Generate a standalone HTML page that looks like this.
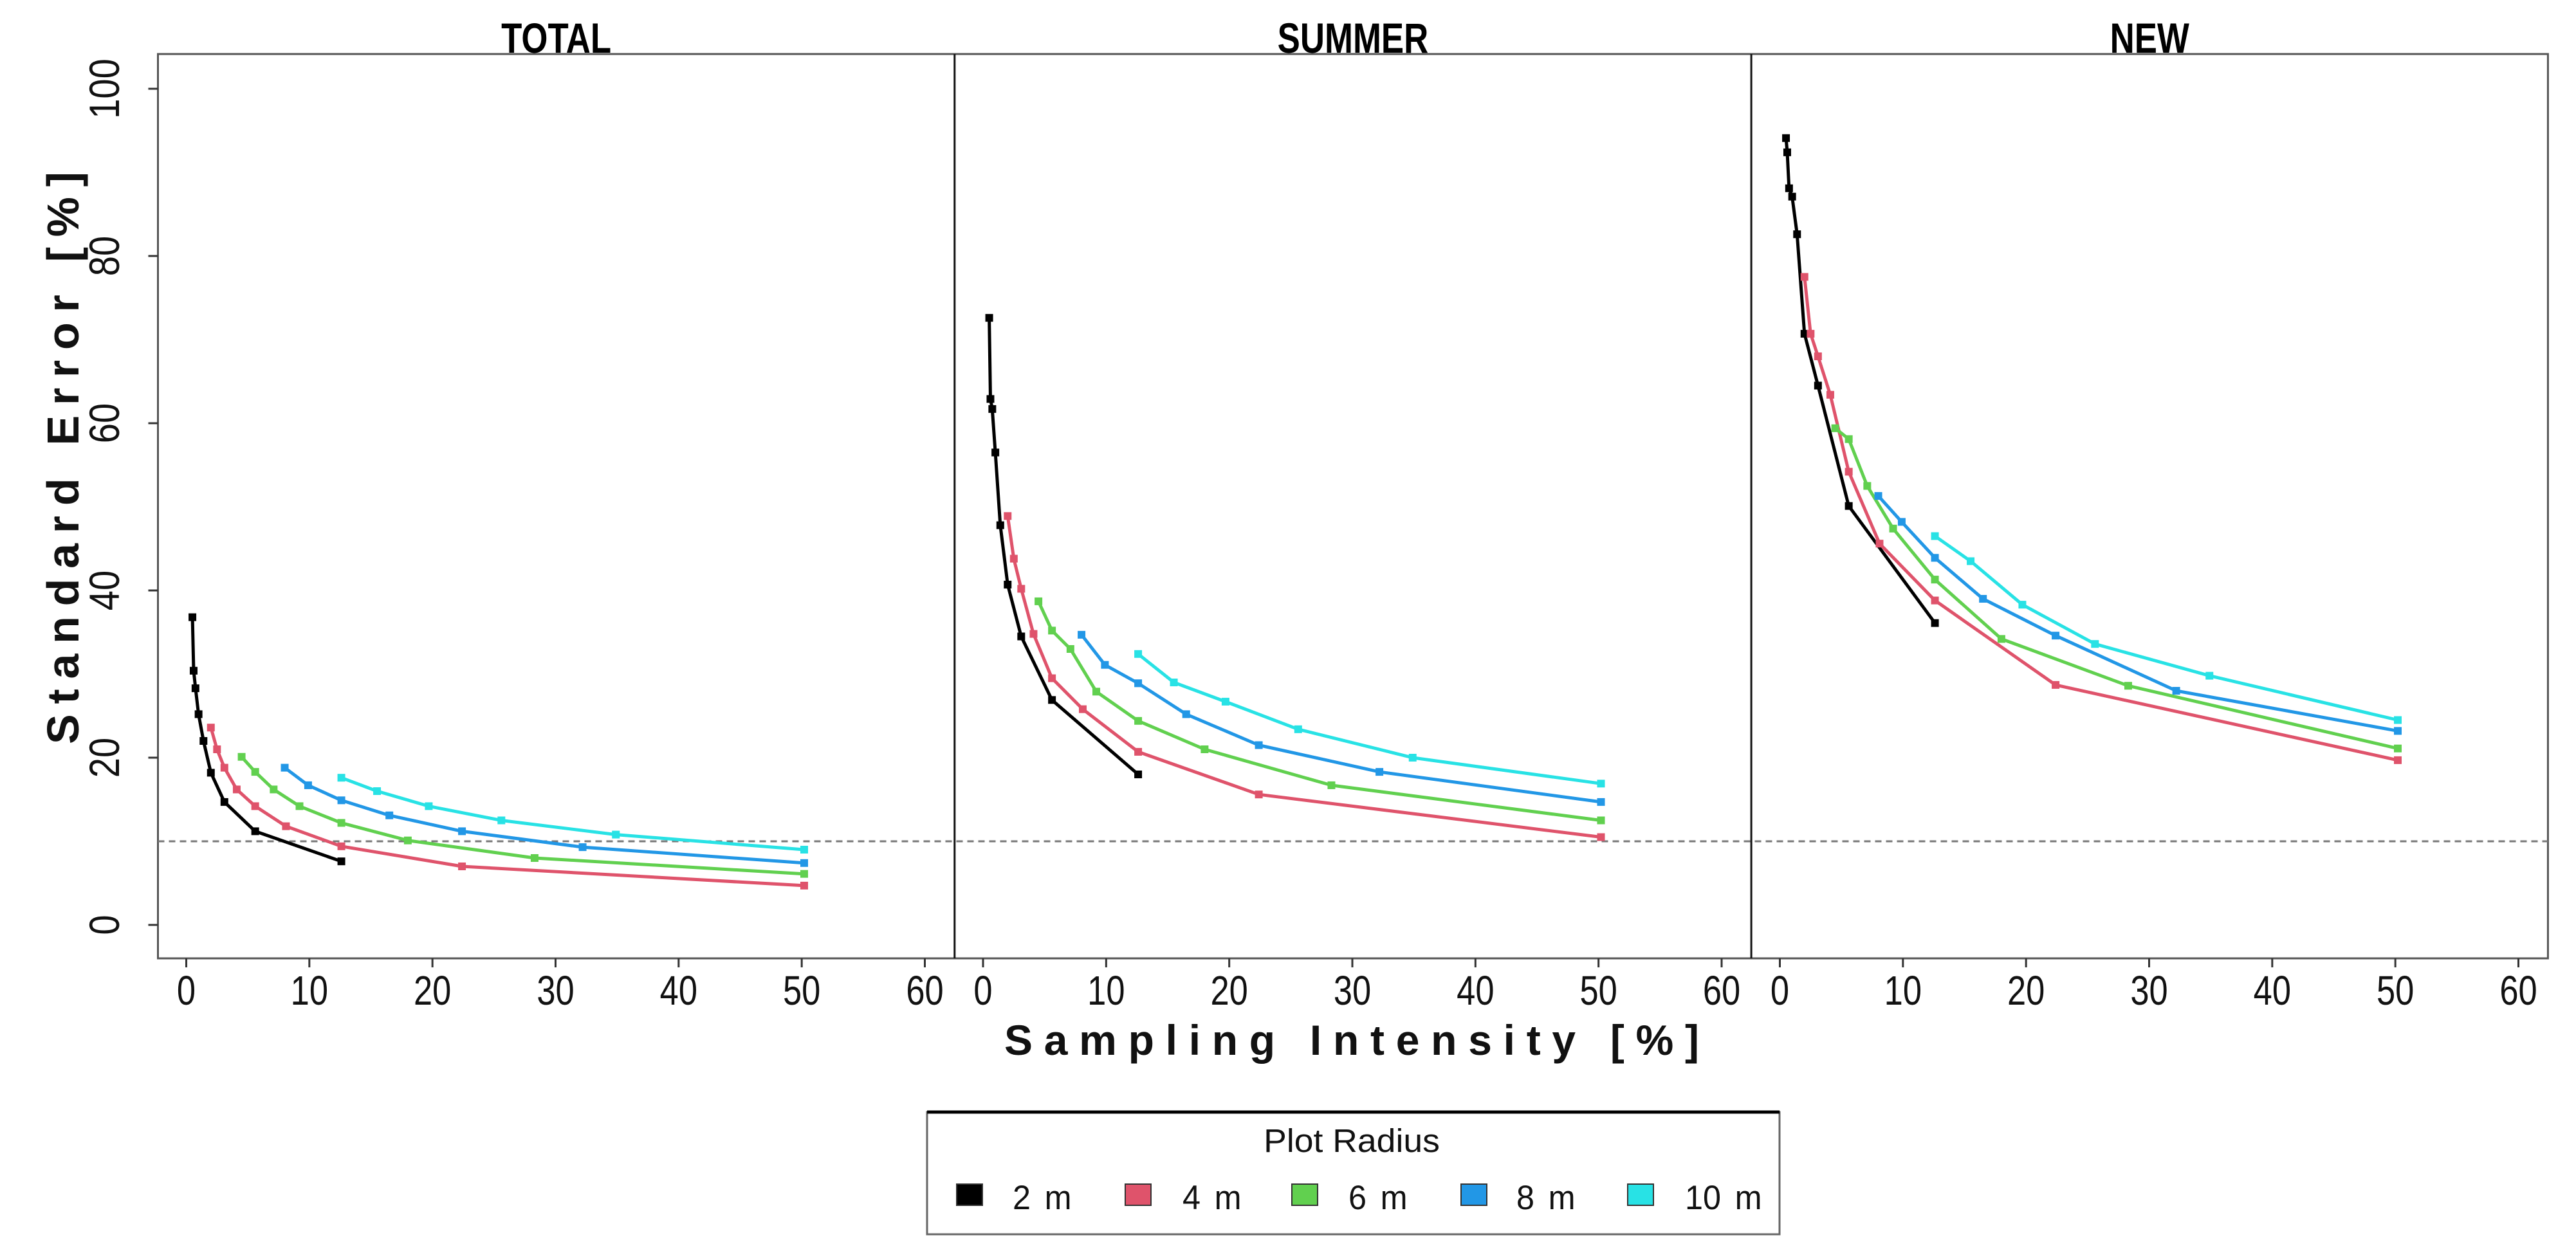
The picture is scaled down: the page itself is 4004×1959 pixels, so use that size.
<!DOCTYPE html>
<html><head><meta charset="utf-8"><style>
html,body{margin:0;padding:0;background:#fff;}
svg{display:block;font-family:"Liberation Sans",sans-serif;}
</style></head><body>
<svg id="chart" width="4004" height="1959" viewBox="0 0 4004 1959" xmlns="http://www.w3.org/2000/svg">
<g id="frame"></g><g id="marks"></g><g id="labels"></g>
</svg>
<script>
const panelTitles = ["TOTAL","SUMMER","NEW"];
const seriesNames = ["2 m","4 m","6 m","8 m","10 m"];
const xTicks = [0,10,20,30,40,50,60];
const yTicks = [0,20,40,60,80,100];
const x2m = [0.5,0.6,0.75,1.0,1.4,2.0,3.1,5.6,12.6];
const x4m = [2.0,2.5,3.1,4.1,5.6,8.1,12.6,22.4,50.2];
const x6m = [4.5,5.6,7.1,9.2,12.6,18.0,28.3,50.2];
const x8m = [8.0,9.9,12.6,16.5,22.4,32.2,50.2];
const x10m = [12.6,15.5,19.7,25.6,34.9,50.2];
const totalY2 = [36.8,30.4,28.3,25.2,22.0,18.2,14.7,11.2,7.6];
const totalY4 = [23.6,21.0,18.8,16.2,14.2,11.8,9.4,7.0,4.7];
const totalY6 = [20.1,18.3,16.2,14.2,12.2,10.1,8.0,6.1];
const totalY8 = [18.8,16.7,14.9,13.1,11.2,9.3,7.4];
const totalY10 = [17.6,16.0,14.2,12.5,10.8,9.0];
const summerY2 = [72.6,62.9,61.7,56.5,47.8,40.7,34.5,26.9,18.0];
const summerY4 = [48.9,43.8,40.2,34.8,29.5,25.8,20.7,15.6,10.5];
const summerY6 = [38.7,35.2,33.0,27.9,24.4,21.0,16.7,12.5];
const summerY8 = [34.7,31.1,28.9,25.2,21.5,18.3,14.7];
const summerY10 = [32.4,29.0,26.7,23.4,20.0,16.9];
const newY2 = [94.1,92.4,88.1,87.1,82.6,70.7,64.5,50.1,36.1];
const newY4 = [77.5,70.7,68.0,63.4,54.2,45.6,38.8,28.7,19.7];
const newY6 = [59.4,58.1,52.5,47.4,41.3,34.2,28.6,21.1];
const newY8 = [51.3,48.2,43.9,39.0,34.6,28.0,23.2];
const newY10 = [46.5,43.5,38.3,33.6,29.8,24.5];
const thresholdValue = 10;

const NS="http://www.w3.org/2000/svg";
const colors=["#000000","#DF536B","#61D04F","#2297E6","#28E2E5"];
const xs=[x2m,x4m,x6m,x8m,x10m];
const panelYs=[[totalY2,totalY4,totalY6,totalY8,totalY10],[summerY2,summerY4,summerY6,summerY8,summerY10],[newY2,newY4,newY6,newY8,newY10]];
const frameL=245.5, frameT=84, frameB=1490, panelW=1238.3;
const x0s=[289.5,1528,2766.5], pxPerX=1148/60;
function sx(p,v){return x0s[p]+v*pxPerX;}
function sy(v){return 1438-v*13.0;}
function mk(tag,attrs,parent){const e=document.createElementNS(NS,tag);for(const k in attrs)e.setAttribute(k,attrs[k]);parent.appendChild(e);return e;}
const frame=document.getElementById('frame'),marks=document.getElementById('marks'),labels=document.getElementById('labels');
const frameR=frameL+3*panelW;
let r=mk('rect',{x:frameL,y:frameT,width:frameR-frameL,height:frameB-frameT,fill:'none',stroke:'#555',"stroke-width":3},frame);


for(let p=1;p<3;p++){
  let d=mk('line',{x1:frameL+p*panelW,x2:frameL+p*panelW,y1:frameT,y2:frameB,stroke:'#111',"stroke-width":3},frame);
  
  
}
let th=mk('line',{x1:frameL,x2:frameR,y1:sy(thresholdValue),y2:sy(thresholdValue),stroke:'#777',"stroke-width":3,"stroke-dasharray":"10 7"},frame);


yTicks.forEach(v=>{
  let t=mk('line',{x1:frameL-15,x2:frameL,y1:sy(v),y2:sy(v),stroke:'#333',"stroke-width":3},frame);
  
  
  let g=mk('g',{transform:`translate(185,${sy(v)}) rotate(-90) scale(0.85,1)`},labels);
  let tx=mk('text',{x:0,y:0,"text-anchor":"middle","font-size":66,fill:'#111'},g);
  tx.textContent=v;
  
  
});
for(let p=0;p<3;p++){
  xTicks.forEach(v=>{
    let t=mk('line',{x1:sx(p,v),x2:sx(p,v),y1:frameB,y2:frameB+14,stroke:'#333',"stroke-width":3},frame);
    
    
    let g=mk('g',{transform:`translate(${sx(p,v)},1562) scale(0.82,1)`},labels);
    let tx=mk('text',{x:0,y:0,"text-anchor":"middle","font-size":64,fill:'#111'},g);
    tx.textContent=v;
    
    
  });
  let g=mk('g',{transform:`translate(${frameL+(p+0.5)*panelW},82) scale(0.8,1)`},labels);
  let tt=mk('text',{x:0,y:0,"text-anchor":"middle","font-size":66,"font-weight":"bold",fill:'#000'},g);
  tt.textContent=panelTitles[p];
  
  
  for(let s=0;s<5;s++){
    const ys=panelYs[p][s], xv=xs[s];
    const pts=ys.map((y,i)=>sx(p,xv[i]).toFixed(1)+','+sy(y).toFixed(1)).join(' ');
    let pl=mk('polyline',{points:pts,fill:'none',stroke:colors[s],"stroke-width":5,"stroke-linejoin":"round"},marks);
    
    
    ys.forEach((y,i)=>{
      let pt=mk('rect',{x:sx(p,xv[i])-6,y:sy(y)-6,width:12,height:12,fill:colors[s]},marks);
      
      
    });
  }
}
let yt=mk('text',{x:0,y:0,"text-anchor":"middle","font-size":70,"font-weight":"bold",fill:'#111',textLength:890,lengthAdjust:'spacing',transform:'translate(122,712) rotate(-90)'},labels);
yt.textContent='Standard Error [%]';


let xt=mk('text',{x:1561,y:1640,"font-size":66,"font-weight":"bold",fill:'#111',textLength:1080,lengthAdjust:'spacing'},labels);
xt.textContent='Sampling Intensity [%]';


let lb=mk('rect',{x:1441,y:1729,width:1325,height:190,fill:'#fff',stroke:'#666',"stroke-width":3},labels);


let lt=mk('line',{x1:1441,x2:2766,y1:1729,y2:1729,stroke:'#000',"stroke-width":5},labels);


let lg=mk('g',{transform:'translate(2101,1791) scale(1.05,1)'},labels);
let ltt=mk('text',{x:0,y:0,"text-anchor":"middle","font-size":51,fill:'#111'},lg);
ltt.textContent='Plot Radius';


const legSq=[1487,1749,2008,2271,2530], legTx=[1574,1838,2096,2357,2619];
for(let s=0;s<5;s++){
  let sq=mk('rect',{x:legSq[s],y:1841,width:40,height:33,fill:colors[s],stroke:'#333',"stroke-width":2},labels);
  
  
  let g=mk('g',{transform:`translate(${legTx[s]},1880) scale(0.95,1)`},labels);
  let tx=mk('text',{x:0,y:0,"font-size":53,fill:'#111',"word-spacing":8},g);
  tx.textContent=seriesNames[s];
  
  
}
</script>
</body></html>
